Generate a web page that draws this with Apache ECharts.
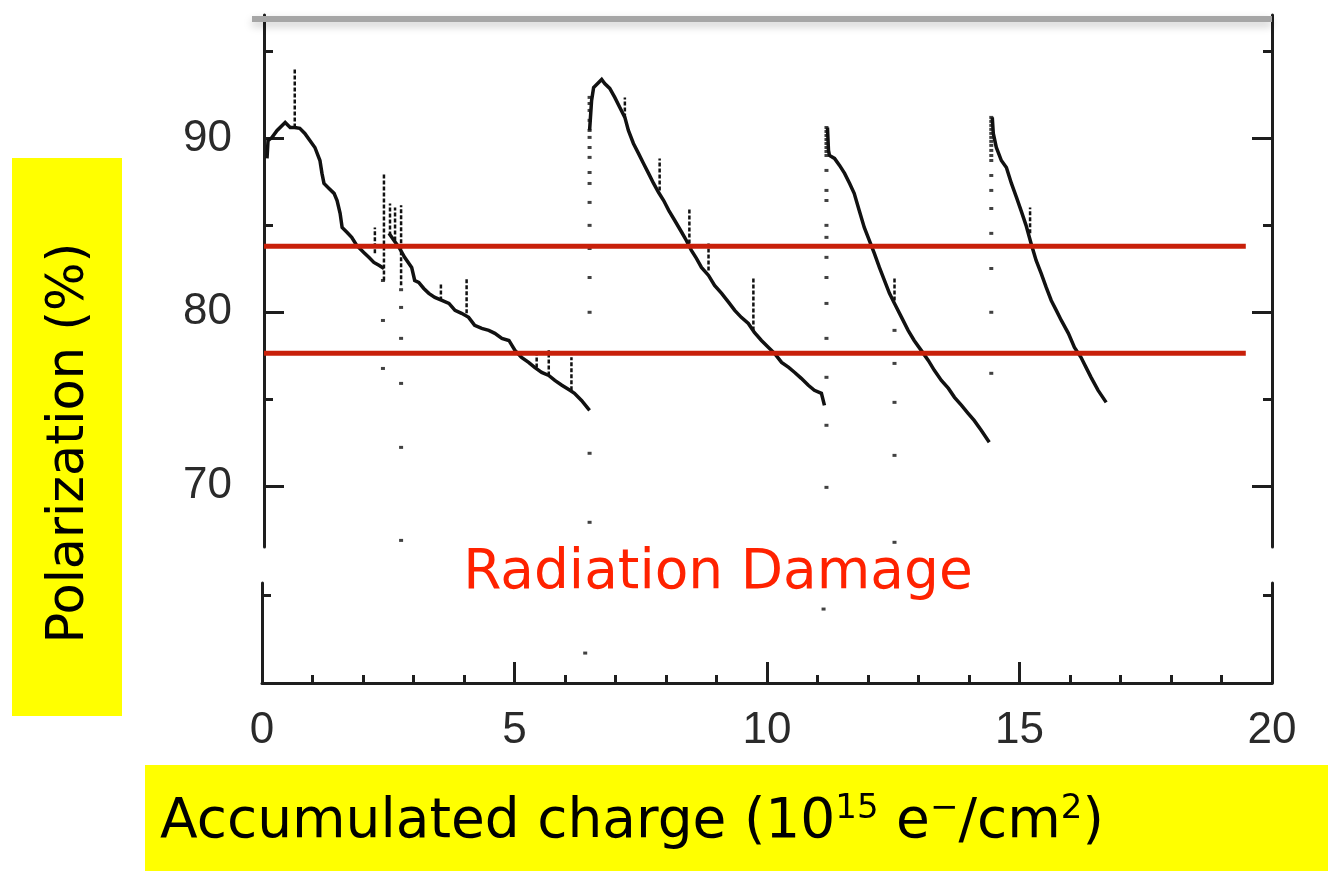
<!DOCTYPE html>
<html>
<head>
<meta charset="utf-8">
<script src="https://cdn.jsdelivr.net/npm/echarts@6/dist/echarts.min.js"></script>
<style>
  html, body { margin: 0; padding: 0; background: #ffffff; }
  #chart { width: 1339px; height: 872px; }
</style>
</head>
<body>
<div id="chart"></div>
<script>
// Polarization (%) versus accumulated charge (10^15 e-/cm^2)

// Decay runs: [charge, polarization]
const run1a = [
  [0.06, 88.85], [0.08, 89.88], [0.16, 90.06], [0.26, 90.46], [0.42, 90.92], [0.52, 90.63],
  [0.61, 90.63], [0.71, 90.58], [0.81, 90.29], [0.91, 89.88], [1.01, 89.48], [1.11, 88.73],
  [1.15, 87.99], [1.19, 87.41], [1.29, 87.12], [1.39, 86.84], [1.45, 86.43], [1.51, 85.69],
  [1.55, 84.88], [1.65, 84.59], [1.74, 84.31], [1.84, 83.85], [1.98, 83.44], [2.08, 83.16],
  [2.18, 82.87], [2.28, 82.70], [2.38, 82.52]
];
const run1b = [
  [2.48, 84.54], [2.58, 84.13], [2.68, 83.73], [2.79, 83.16], [2.93, 82.58], [2.99, 81.83],
  [3.07, 81.72], [3.17, 81.37], [3.27, 81.09], [3.39, 80.86], [3.53, 80.68], [3.67, 80.51],
  [3.79, 80.11], [3.92, 79.94], [4.06, 79.71], [4.18, 79.25], [4.32, 79.07], [4.46, 78.96],
  [4.58, 78.79], [4.72, 78.50], [4.86, 78.38], [4.98, 77.81], [5.11, 77.41], [5.25, 77.12],
  [5.37, 76.83], [5.51, 76.54], [5.65, 76.37], [5.77, 76.08], [5.91, 75.80], [6.07, 75.51],
  [6.16, 75.34], [6.30, 74.93], [6.46, 74.36]
];
const run2 = [
  [6.46, 90.46], [6.50, 92.19], [6.54, 92.93], [6.64, 93.22], [6.70, 93.39], [6.76, 93.16],
  [6.86, 92.88], [6.96, 92.36], [7.06, 91.78], [7.16, 91.21], [7.23, 90.46], [7.33, 89.71],
  [7.43, 89.14], [7.53, 88.56], [7.63, 87.99], [7.73, 87.41], [7.83, 86.89], [7.93, 86.43],
  [8.03, 85.86], [8.15, 85.28], [8.29, 84.59], [8.38, 84.13], [8.48, 83.56], [8.58, 83.10],
  [8.68, 82.58], [8.82, 82.12], [8.94, 81.55], [9.08, 81.09], [9.22, 80.57], [9.34, 80.11],
  [9.47, 79.71], [9.61, 79.36], [9.73, 78.84], [9.87, 78.38], [10.01, 77.98], [10.13, 77.64],
  [10.27, 77.12], [10.41, 76.83], [10.53, 76.54], [10.66, 76.20], [10.80, 75.80], [10.92, 75.51],
  [11.06, 75.34], [11.12, 74.65]
];
const run3 = [
  [11.18, 90.63], [11.20, 89.31], [11.22, 89.02], [11.32, 88.85], [11.42, 88.45], [11.52, 87.99],
  [11.62, 87.41], [11.71, 86.84], [11.81, 85.86], [11.91, 84.88], [12.01, 84.13], [12.11, 83.39],
  [12.21, 82.58], [12.31, 81.83], [12.41, 81.09], [12.51, 80.51], [12.65, 79.71], [12.78, 78.96],
  [12.90, 78.38], [13.04, 77.81], [13.18, 77.23], [13.30, 76.66], [13.44, 76.08], [13.58, 75.62],
  [13.70, 75.11], [13.84, 74.65], [13.97, 74.19], [14.09, 73.78], [14.23, 73.21], [14.39, 72.52]
];
const run4 = [
  [14.45, 91.21], [14.47, 90.29], [14.53, 89.48], [14.63, 88.73], [14.73, 88.33], [14.83, 87.41],
  [14.93, 86.61], [15.02, 85.86], [15.12, 85.00], [15.22, 83.96], [15.32, 82.98], [15.42, 82.24],
  [15.52, 81.43], [15.62, 80.68], [15.72, 80.11], [15.82, 79.53], [15.96, 78.79], [16.08, 77.98],
  [16.21, 77.41], [16.31, 76.83], [16.41, 76.26], [16.55, 75.51], [16.71, 74.82]
];

// Short vertical excursions: [charge, low, high]
const spikes = [
  [0.61, 90.63, 94.08], [2.20, 83.39, 84.88], [2.38, 81.83, 88.04], [2.50, 84.42, 86.26],
  [2.60, 84.13, 86.03], [2.72, 81.55, 86.15], [3.51, 80.68, 81.66], [4.02, 79.94, 82.00],
  [5.41, 76.83, 77.81], [5.65, 76.37, 77.81], [6.10, 75.51, 77.41], [7.16, 91.21, 92.36],
  [7.85, 87.01, 88.85], [8.44, 83.96, 86.03], [8.82, 82.41, 83.96], [9.71, 78.96, 81.95],
  [12.51, 80.68, 82.00], [15.20, 84.54, 86.03]
];

// Scattered single readings along the anneal / restart columns
const dotsA = [[6.46, 92.36], [6.46, 92.01], [6.46, 91.61], [6.46, 91.04], [6.46, 90.46], [6.46, 90.06],
  [6.46, 89.48], [6.46, 88.91], [6.46, 88.04], [6.46, 87.41], [6.46, 86.32], [6.46, 85.00],
  [6.46, 83.67], [6.46, 82.00], [6.46, 80.00], [6.46, 71.89], [6.46, 67.92]];
const dotsB = [[11.16, 90.63], [11.16, 90.40], [11.16, 90.17], [11.16, 89.94], [11.16, 89.71],
  [11.16, 89.48], [11.16, 89.25], [11.16, 89.02], [11.16, 88.16], [11.16, 87.01], [11.16, 86.43],
  [11.16, 85.00], [11.16, 84.31], [11.16, 83.16], [11.16, 82.00], [11.16, 80.51], [11.16, 78.50],
  [11.16, 76.26], [11.16, 73.50], [11.16, 69.93]];
const dotsC = [[14.43, 91.21], [14.43, 90.98], [14.43, 90.75], [14.43, 90.52], [14.43, 90.29],
  [14.43, 90.06], [14.43, 89.83], [14.43, 89.60], [14.43, 89.31], [14.43, 89.02], [14.43, 88.73],
  [14.43, 87.87], [14.43, 87.01], [14.43, 85.97], [14.43, 84.54], [14.43, 82.52], [14.43, 80.00],
  [14.43, 76.49]];
const dotsD = [[12.51, 78.96], [12.51, 77.06], [12.51, 74.82], [12.51, 71.77], [12.51, 66.77]];
const dotsE = [[2.36, 81.83], [2.36, 79.53], [2.36, 76.77]];
const dotsF = [[2.72, 81.30], [2.72, 80.28], [2.72, 78.50], [2.72, 75.91], [2.72, 72.23], [2.72, 66.88]];
const lowDots = [[6.40, 61.7], [11.12, 64.2]];

// Reference polarization levels
const refLevels = [83.8, 77.65];
const refEnd = 19.48;

// Axis ticks
const xTickLabels = [0, 5, 10, 15, 20];
const yMajor = [70, 80, 90];
const yMinor = [75, 85, 95];
const yLowMinor = [65];

const tickFont = { fontFamily: 'Liberation Sans, Arial, sans-serif', fontSize: 44, color: '#2a2a2a' };
const axisLineStyle = { color: '#1e1e1e', width: 3 };

function yAx(grid, pos, min, max, ticks, len, showLine, labels) {
  return {
    type: 'value', gridIndex: grid, position: pos, min: min, max: max,
    axisLine: { show: showLine, onZero: false, lineStyle: axisLineStyle },
    axisTick: { show: ticks.length > 0, inside: true, length: len, customValues: ticks,
      lineStyle: { color: '#1e1e1e', width: 3 } },
    axisLabel: labels ? Object.assign({ show: true, customValues: labels, margin: 32 }, tickFont)
                      : { show: false },
    splitLine: { show: false }
  };
}

const lineRun = (data) => ({
  type: 'line', xAxisIndex: 0, yAxisIndex: 0, data: data, symbol: 'none',
  lineStyle: { color: '#111', width: 3.5, join: 'miter' }, z: 3, animation: false
});
const dotRun = (data, xi, yi) => ({
  type: 'scatter', xAxisIndex: xi, yAxisIndex: yi, data: data, symbol: 'rect',
  symbolSize: [4, 3], itemStyle: { color: '#111' }, z: 3, animation: false
});

const chart = echarts.init(document.getElementById('chart'), null, { renderer: 'canvas' });

const titleFont = '"Comic Sans MS", "DejaVu Sans", sans-serif';

const option = {
  backgroundColor: '#ffffff',
  animation: false,
  grid: [
    { left: 264, right: 67, top: 15, height: 532 },
    { left: 262, right: 67, top: 583, height: 100 }
  ],
  xAxis: [
    { type: 'value', gridIndex: 0, min: 0, max: 20, show: false },
    {
      type: 'value', gridIndex: 1, min: 0, max: 20, interval: 5,
      axisLine: { show: true, onZero: false, lineStyle: axisLineStyle },
      axisTick: { inside: true, length: 21, lineStyle: { color: '#1e1e1e', width: 3 } },
      minorTick: { show: true, splitNumber: 5, length: 8, lineStyle: { color: '#1e1e1e', width: 3 } },
      axisLabel: Object.assign({ margin: 26, customValues: xTickLabels }, tickFont),
      splitLine: { show: false }, minorSplitLine: { show: false }
    }
  ],
  yAxis: [
    yAx(0, 'left', 66.5, 97.1, yMajor, 20, true, yMajor),
    yAx(0, 'left', 66.5, 97.1, yMinor, 9, false, null),
    yAx(0, 'right', 66.5, 97.1, yMajor, 20, true, null),
    yAx(0, 'right', 66.5, 97.1, yMinor, 9, false, null),
    yAx(1, 'left', 60, 65.68, yLowMinor, 9, true, null),
    yAx(1, 'right', 60, 65.68, yLowMinor, 9, true, null)
  ],
  series: [
    lineRun(run1a), lineRun(run1b), lineRun(run2), lineRun(run3), lineRun(run4),
    {
      type: 'custom', xAxisIndex: 0, yAxisIndex: 0, data: spikes, z: 3,
      encode: { x: 0, y: [1, 2] },
      renderItem: function (params, api) {
        const a = api.coord([api.value(0), api.value(1)]);
        const b = api.coord([api.value(0), api.value(2)]);
        return {
          type: 'line',
          shape: { x1: a[0], y1: a[1], x2: b[0], y2: b[1] },
          style: { stroke: '#111', lineWidth: 2.5, lineDash: [4, 2] }
        };
      }
    },
    dotRun(dotsA, 0, 0), dotRun(dotsB, 0, 0), dotRun(dotsC, 0, 0),
    dotRun(dotsD, 0, 0), dotRun(dotsE, 0, 0), dotRun(dotsF, 0, 0),
    dotRun(lowDots, 1, 4)
  ].concat(refLevels.map(v => ({
    type: 'line', xAxisIndex: 0, yAxisIndex: 0, symbol: 'none', z: 5,
    data: [[0, v], [refEnd, v]],
    lineStyle: { color: '#c8200a', width: 5 }
  }))),
  graphic: [
    // grey rule across the top of the frame
    {
      type: 'rect', z: 10,
      shape: { x: 252, y: 16, width: 1020, height: 6 },
      style: { fill: '#a6a6a6', shadowBlur: 8, shadowOffsetY: 4, shadowColor: 'rgba(0,0,0,0.22)' }
    },
    {
      type: 'text', z: 10, x: 718, y: 574,
      style: {
        text: 'Radiation Damage', fill: '#ff2200', align: 'center', verticalAlign: 'middle',
        font: '55px ' + titleFont
      }
    },
    // y-axis title box
    {
      type: 'rect', z: 1,
      shape: { x: 12, y: 158, width: 110, height: 558 },
      style: { fill: '#ffff00' }
    },
    {
      type: 'text', z: 2, x: 70, y: 443, rotation: Math.PI / 2,
      style: {
        text: 'Polarization (%)', fill: '#000', align: 'center', verticalAlign: 'middle',
        font: '51px ' + titleFont
      }
    },
    // x-axis title box
    {
      type: 'rect', z: 1,
      shape: { x: 145, y: 765, width: 1183, height: 106 },
      style: { fill: '#ffff00' }
    },
    {
      type: 'text', z: 2, x: 160, y: 823,
      style: {
        text: '{m|Accumulated charge (10}{s|15}{m| e}{s|\u2212}{m|/cm}{s|2}{m|)}',
        fill: '#000', align: 'left', verticalAlign: 'middle',
        rich: {
          m: { fontSize: 55, fontFamily: titleFont, fill: '#000', lineHeight: 62 },
          s: { fontSize: 34, fontFamily: titleFont, fill: '#000', verticalAlign: 'top', lineHeight: 34 }
        }
      }
    }
  ]
};

chart.setOption(option);
</script>
</body>
</html>
